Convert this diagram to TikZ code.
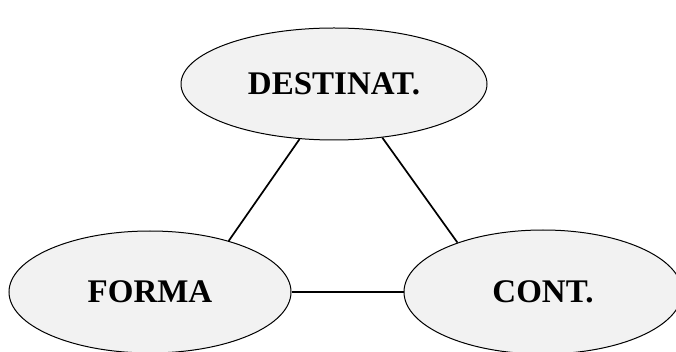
\documentclass[tikz,border=0pt]{standalone}
\usepackage{fontspec}
\setmainfont{Liberation Serif}
\usetikzlibrary{shapes.geometric}
\definecolor{bubblefill}{HTML}{F2F2F2}
\begin{document}
\begin{tikzpicture}[x=1pt,y=-1pt,
  bubble/.style={ellipse, draw=black, line width=1pt, fill=bubblefill,
    inner sep=0pt, font=\fontsize{33}{36}\selectfont\bfseries},
  link/.style={draw=black, line width=1.7pt}]
  \useasboundingbox (0,0) rectangle (676,352);
  \clip (0,0) rectangle (676,352);
  \node[bubble, minimum width=306pt, minimum height=112pt] (dest) at (334,84) {DESTINAT.};
  \node[bubble, minimum width=282pt, minimum height=122pt] (forma) at (150,292) {FORMA};
  \node[bubble, minimum width=278pt, minimum height=124pt] (cont) at (543,292) {CONT.};
  \draw[link] (dest.238) -- (forma.33);
  \draw[link] (dest.312) -- (cont.150);
  \draw[link] (forma.east) -- (cont.west);
\end{tikzpicture}
\end{document}
